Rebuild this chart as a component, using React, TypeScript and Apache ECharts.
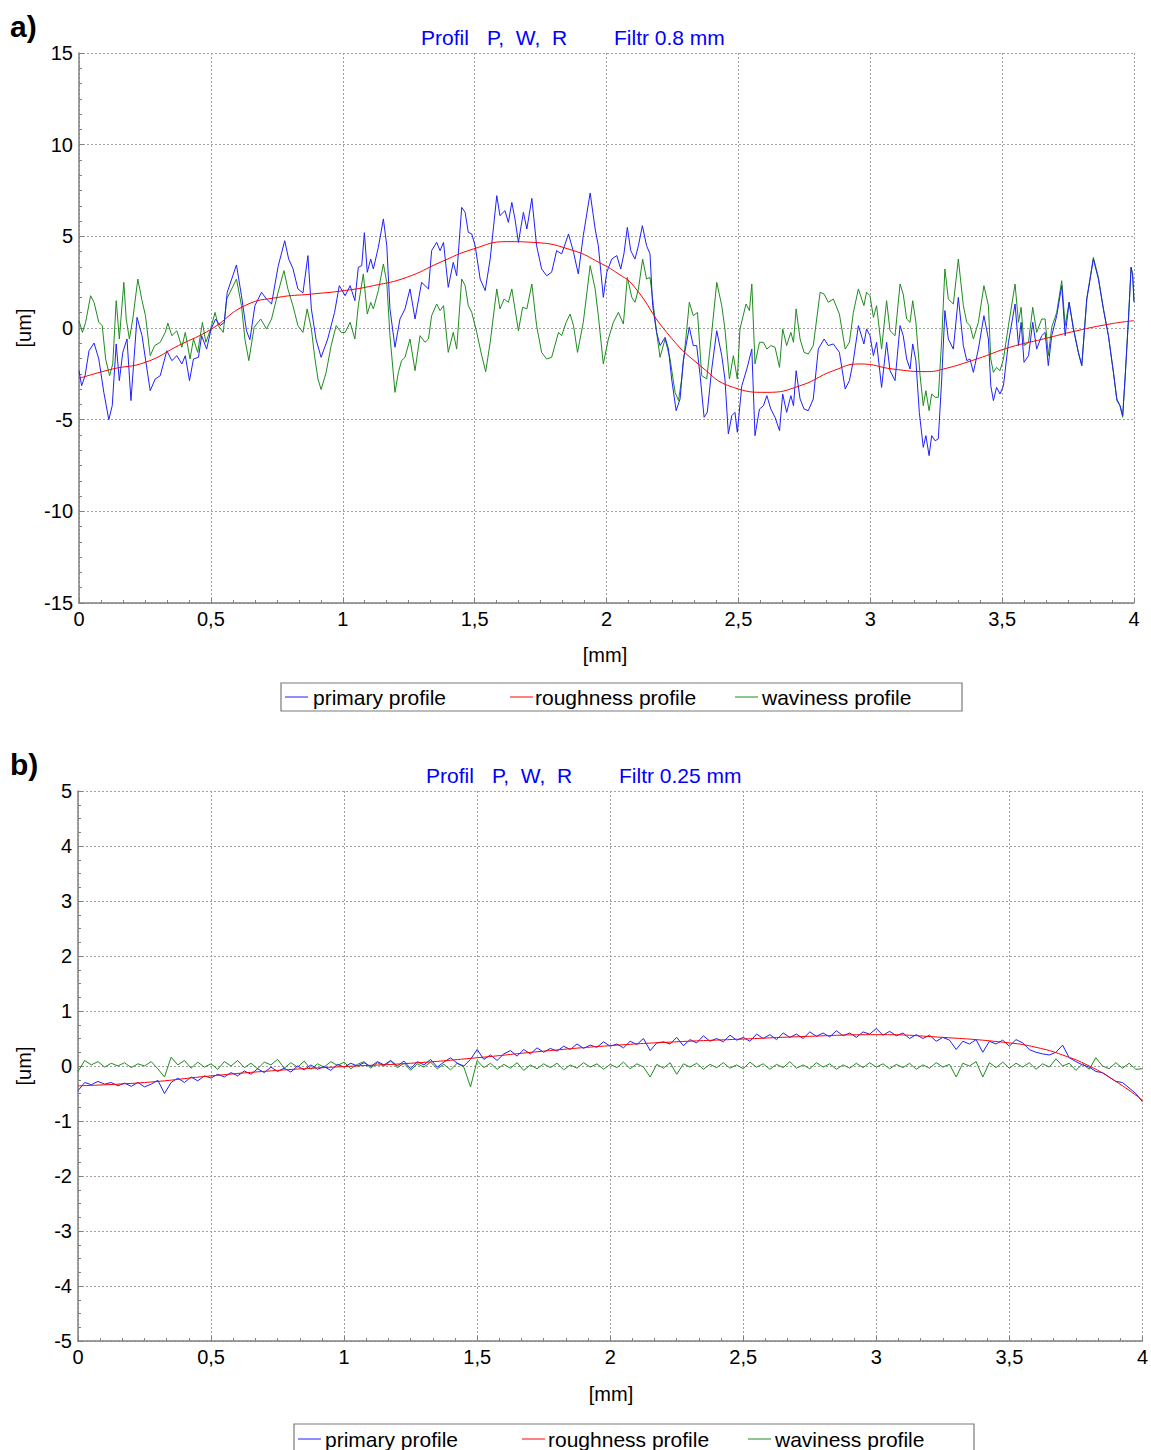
import React, { useEffect, useRef } from "react";
import * as echarts from "echarts";

const FONT = "'Liberation Sans', Arial, Helvetica, sans-serif";
const BLUE = "#1f1fff";
const RED = "#ff0000";
const GREEN = "#1e8c1e";

// ---------- Panel a) : Filtr 0.8 mm ----------  [x mm, value um]
const primaryA: number[][] = [
  [0, -2.33], [0.01, -3.15], [0.023, -2.6], [0.038, -1.24], [0.057, -0.82], [0.075, -1.69], [0.094, -3.5], [0.113, -5.0], [0.126, -4.24], [0.141, -0.87],
  [0.153, -2.87], [0.166, -1.33], [0.182, -0.6], [0.197, -3.96], [0.22, 0.58], [0.239, -0.42], [0.252, -1.69], [0.27, -3.42], [0.289, -2.78], [0.308, -2.6],
  [0.333, -1.24], [0.352, -1.78], [0.371, -1.51], [0.39, -1.96], [0.403, -1.51], [0.419, -2.87], [0.434, -1.69], [0.453, -1.6], [0.465, -0.42], [0.484, -1.15],
  [0.501, -0.05], [0.518, 0.49], [0.535, 0.13], [0.551, 0.31], [0.562, 1.95], [0.579, 2.67], [0.597, 3.44], [0.616, 1.76], [0.635, -0.15], [0.648, -0.64],
  [0.667, 1.22], [0.692, 1.95], [0.711, 1.58], [0.73, 1.31], [0.755, 3.36], [0.78, 4.76], [0.795, 3.76], [0.811, 3.25], [0.83, 2.13], [0.849, 1.91],
  [0.868, 3.95], [0.881, 1.04], [0.899, -0.64], [0.918, -1.6], [0.943, -0.6], [0.969, 0.85], [0.987, 2.31],
  [1.009, 1.76], [1.028, 2.31], [1.046, 1.49], [1.059, 3.31], [1.072, 3.4], [1.082, 5.2], [1.093, 3.04], [1.106, 3.76], [1.116, 3.22], [1.135, 4.4],
  [1.154, 5.95], [1.167, 4.49], [1.179, 1.04], [1.198, -1.05], [1.217, 0.49], [1.236, 1.04], [1.255, 2.13], [1.274, 0.49], [1.299, 2.49], [1.325, 2.13],
  [1.337, 4.22], [1.356, 4.67], [1.369, 4.22], [1.382, 4.67], [1.4, 2.22], [1.419, 3.58], [1.432, 2.85], [1.451, 6.58], [1.464, 6.31], [1.476, 5.22],
  [1.489, 5.13], [1.502, 4.49], [1.521, 2.67], [1.54, 2.04], [1.559, 3.76], [1.584, 7.22], [1.596, 6.13], [1.615, 6.4], [1.628, 5.76], [1.641, 6.85],
  [1.653, 5.95], [1.666, 4.67], [1.685, 6.31], [1.698, 5.4], [1.717, 7.07], [1.735, 4.49], [1.754, 3.22], [1.773, 2.85], [1.792, 3.04], [1.811, 4.22],
  [1.83, 4.04], [1.843, 4.58], [1.856, 5.13], [1.875, 4.13], [1.893, 2.95], [1.912, 5.04], [1.938, 7.36], [1.957, 5.4], [1.969, 4.49], [1.988, 1.67],
  [2.001, 3.04], [2.02, 3.76], [2.039, 3.95], [2.054, 3.22], [2.066, 4.04], [2.079, 5.49], [2.092, 4.22], [2.108, 3.76], [2.121, 4.49], [2.136, 5.58],
  [2.152, 4.49], [2.165, 4.04], [2.175, 1.22], [2.19, -0.24], [2.203, -0.96], [2.222, -0.51], [2.235, -1.15], [2.247, -2.78], [2.264, -4.51], [2.279, -3.87],
  [2.291, -1.78], [2.314, 0.04], [2.329, -0.96], [2.342, -0.96], [2.355, -2.6], [2.37, -4.87], [2.382, -4.6], [2.399, -2.24], [2.418, -0.15], [2.437, -1.51],
  [2.449, -2.78], [2.462, -5.78], [2.475, -4.78], [2.487, -4.6], [2.496, -5.69], [2.513, -3.15], [2.532, -2.24], [2.551, -1.15], [2.563, -5.87], [2.58, -4.42],
  [2.595, -4.24], [2.608, -3.69], [2.623, -4.42], [2.639, -4.87], [2.656, -5.6], [2.668, -3.6], [2.683, -4.6], [2.699, -3.69], [2.709, -4.24], [2.719, -2.33],
  [2.734, -3.87], [2.749, -4.42], [2.765, -4.51], [2.784, -3.87], [2.803, -1.15], [2.825, -0.6], [2.841, -0.96], [2.86, -0.87], [2.883, -1.33], [2.905, -3.33],
  [2.921, -2.87], [2.936, -1.78], [2.955, 0.13], [2.976, -0.87], [2.986, -0.05], [2.999, -0.42], [3.012, -1.51], [3.024, -0.78], [3.043, -3.24], [3.062, -0.78],
  [3.075, -2.33], [3.094, -2.87], [3.113, 0.13], [3.125, -0.42], [3.138, -1.69], [3.151, -2.24], [3.161, -0.87], [3.173, -1.78], [3.186, -4.6], [3.201, -6.51],
  [3.211, -5.87], [3.223, -6.96], [3.233, -5.87], [3.246, -6.15], [3.258, -6.05], [3.271, -2.78], [3.283, 0.95], [3.296, -0.6], [3.315, -1.15], [3.334, 1.67],
  [3.353, -0.96], [3.366, -1.78], [3.378, -1.69], [3.391, -2.42], [3.41, -1.15], [3.431, 0.67], [3.448, -0.6], [3.457, -3.15], [3.467, -3.96], [3.479, -3.24],
  [3.492, -3.6], [3.505, -3.15], [3.524, -0.78], [3.549, 1.31], [3.562, -0.96], [3.572, 0.31], [3.583, -1.87], [3.6, -1.51], [3.616, 0.31], [3.631, -1.15],
  [3.65, -0.42], [3.663, -0.24], [3.675, -2.05], [3.688, -0.42], [3.707, 0.67], [3.726, 2.31], [3.739, -0.42], [3.754, 1.4], [3.77, -0.05], [3.789, -1.33],
  [3.802, -2.05], [3.821, 1.58], [3.846, 3.76], [3.865, 2.67], [3.884, 1.04], [3.903, -0.42], [3.922, -2.42], [3.935, -3.87], [3.947, -4.24], [3.957, -4.78],
  [3.966, -2.78], [3.979, 0.49], [3.989, 3.31], [3.995, 2.85], [4.0, 1.4],
];

const wavinessA: number[][] = [
  [0, 0.4], [0.013, -0.24], [0.025, 0.31], [0.044, 1.76], [0.057, 1.4], [0.075, 0.31], [0.088, 0.13], [0.101, -1.69], [0.116, -2.6], [0.128, -1.96],
  [0.141, 1.49], [0.153, -0.6], [0.17, 2.49], [0.179, 0.49], [0.191, -0.6], [0.204, 0.49], [0.223, 2.67], [0.239, 1.49], [0.252, 0.67], [0.27, -1.51],
  [0.287, -0.96], [0.308, -0.78], [0.327, -0.24], [0.337, 0.27], [0.352, -0.42], [0.371, -0.15], [0.39, -1.05], [0.403, -0.24], [0.421, -1.69], [0.434, -0.6],
  [0.45, -1.33], [0.468, 0.31], [0.481, -0.78], [0.497, -0.15], [0.516, 0.85], [0.528, 0.13], [0.547, -0.24], [0.56, 1.58], [0.579, 2.13], [0.597, 2.67],
  [0.616, 1.22], [0.629, -0.6], [0.644, -1.78], [0.664, 0.04], [0.689, 0.49], [0.711, -0.05], [0.73, 0.49], [0.755, 1.95], [0.777, 3.13], [0.792, 2.13],
  [0.811, 1.22], [0.83, 0.13], [0.849, -0.24], [0.865, 1.04], [0.881, -0.05], [0.893, -1.51], [0.906, -2.78], [0.918, -3.36], [0.937, -2.42], [0.956, -0.96],
  [0.975, 0.13], [0.994, -0.24],
  [1.009, -0.24], [1.028, 0.31], [1.046, -0.6], [1.059, 1.22], [1.078, 2.95], [1.093, 0.76], [1.106, 1.4], [1.116, 1.04], [1.135, 2.04], [1.154, 3.49],
  [1.167, 2.49], [1.179, -0.42], [1.198, -3.51], [1.211, -2.42], [1.223, -1.78], [1.236, -1.6], [1.255, -0.6], [1.274, -2.33], [1.293, -0.42], [1.312, -0.78],
  [1.325, -0.6], [1.337, 0.67], [1.356, 1.31], [1.369, 0.95], [1.382, 1.22], [1.4, -1.33], [1.419, -0.24], [1.432, -1.15], [1.451, 2.67], [1.464, 2.31],
  [1.476, 1.22], [1.489, 0.85], [1.508, -0.24], [1.527, -1.51], [1.542, -2.38], [1.559, -0.78], [1.584, 2.13], [1.596, 1.04], [1.612, 1.58], [1.628, 1.4],
  [1.641, 2.13], [1.653, 1.04], [1.666, -0.15], [1.682, 1.13], [1.698, 1.04], [1.717, 2.4], [1.735, 0.13], [1.754, -1.33], [1.773, -1.69], [1.792, -1.6],
  [1.818, -0.24], [1.83, -0.42], [1.847, 0.31], [1.862, 0.76], [1.875, 0.13], [1.89, -1.33], [1.912, 0.31], [1.938, 3.4], [1.957, 2.13], [1.969, 0.67],
  [1.988, -1.96], [2.007, -0.6], [2.026, 0.31], [2.045, 0.85], [2.064, 0.22], [2.079, 2.76], [2.096, 1.67], [2.108, 1.4], [2.121, 2.13], [2.137, 3.76],
  [2.152, 2.67], [2.165, 2.76], [2.178, 1.22], [2.19, -0.24], [2.203, -1.6], [2.222, -0.6], [2.241, -1.69], [2.26, -3.51], [2.273, -3.96], [2.285, -2.78],
  [2.302, -0.42], [2.314, 1.4], [2.329, 0.67], [2.345, 0.85], [2.361, -2.6], [2.38, -2.78], [2.399, -0.24], [2.418, 2.49], [2.437, 1.22], [2.449, -0.05],
  [2.466, -2.78], [2.481, -1.51], [2.496, -2.78], [2.506, -0.05], [2.529, 1.31], [2.542, 0.95], [2.551, 2.4], [2.563, -1.96], [2.58, -0.78], [2.595, -0.78],
  [2.608, -1.15], [2.623, -0.96], [2.639, -1.05], [2.656, -2.15], [2.668, -0.05], [2.683, -0.96], [2.699, -0.24], [2.709, -0.78], [2.719, 1.04], [2.734, -0.6],
  [2.749, -1.33], [2.765, -1.42], [2.784, -0.96], [2.81, 1.95], [2.825, 1.85], [2.841, 1.4], [2.86, 1.58], [2.883, 0.76], [2.905, -1.15], [2.921, -0.78],
  [2.936, 0.85], [2.955, 2.13], [2.976, 1.22], [2.986, 1.95], [2.999, 1.76], [3.012, 0.58], [3.024, 1.22], [3.043, -1.15], [3.062, 1.49], [3.075, -0.15],
  [3.094, -0.42], [3.113, 2.4], [3.125, 1.85], [3.138, 0.49], [3.151, 0.31], [3.161, 1.49], [3.173, 0.31], [3.189, -2.6], [3.201, -4.24], [3.211, -3.42],
  [3.223, -4.51], [3.233, -3.6], [3.246, -3.78], [3.258, -3.78], [3.271, -0.6], [3.283, 3.22], [3.296, 1.58], [3.315, 1.31], [3.334, 3.76], [3.353, 1.22],
  [3.366, 0.31], [3.378, 0.13], [3.391, -0.6], [3.41, 0.31], [3.431, 2.31], [3.448, 1.22], [3.457, -1.69], [3.467, -2.42], [3.479, -2.15], [3.492, -2.33],
  [3.505, -1.69], [3.524, 0.13], [3.549, 2.4], [3.562, 0.31], [3.572, 1.13], [3.583, -0.96], [3.6, -0.78], [3.616, 1.13], [3.631, -0.24], [3.65, 0.49],
  [3.663, 0.49], [3.675, -1.51], [3.688, 0.04], [3.707, 0.85], [3.726, 2.58], [3.739, 0.13], [3.754, 1.4], [3.77, 0.04], [3.789, -1.33], [3.802, -2.05],
  [3.821, 1.58], [3.846, 3.85], [3.865, 2.76], [3.884, 1.04], [3.903, -0.42], [3.922, -2.42], [3.935, -3.96], [3.947, -4.24], [3.957, -4.87], [3.966, -2.78],
  [3.979, 0.49], [3.989, 3.31], [3.995, 2.95], [4.0, 1.49],
];

const roughnessA: number[][] = [
  [0, -2.75], [0.126, -2.24], [0.252, -1.87], [0.377, -0.96], [0.503, -0.05], [0.629, 1.22], [0.755, 1.67], [0.881, 1.85], [1.006, 2.04], [1.116, 2.31],
  [1.242, 2.76], [1.369, 3.58], [1.495, 4.31], [1.622, 4.71], [1.723, 4.67], [1.875, 4.22], [1.975, 3.55], [2.04, 3.0], [2.102, 2.31], [2.228, -0.24],
  [2.355, -2.05], [2.481, -3.24], [2.608, -3.51], [2.734, -3.15], [2.86, -2.33], [2.961, -1.96], [3.087, -2.24], [3.214, -2.38], [3.277, -2.24], [3.404, -1.69],
  [3.53, -1.05], [3.656, -0.6], [3.783, -0.15], [3.909, 0.22], [4.0, 0.4],
];

// ---------- Panel b) : Filtr 0.25 mm ----------  sampled every STEP_B mm
const STEP_B = 0.025;
const primaryB: number[] = [
  -0.45, -0.3, -0.34, -0.28, -0.33, -0.3, -0.36, -0.31, -0.37, -0.3,
  -0.38, -0.33, -0.26, -0.5, -0.3, -0.22, -0.3, -0.2, -0.27, -0.18,
  -0.22, -0.15, -0.2, -0.12, -0.18, -0.09, -0.15, -0.05, -0.12, -0.02,
  -0.1, -0.04, -0.11, 0.0, -0.07, 0.02, -0.06, -0.01, -0.08, 0.03,
  -0.02, 0.05, 0.0, 0.06, -0.01, 0.08, 0.02, 0.1, 0.0, 0.09,
  -0.05, 0.08, 0.02, 0.12, -0.02, 0.07, 0.15, 0.05, 0.0, 0.12,
  0.3, 0.12, 0.2, 0.1, 0.22, 0.28, 0.18, 0.3, 0.22, 0.33,
  0.25, 0.32, 0.27, 0.36, 0.3, 0.4, 0.32, 0.38, 0.34, 0.44,
  0.36, 0.4, 0.33, 0.45, 0.39, 0.5, 0.28, 0.42, 0.44, 0.4,
  0.52, 0.37, 0.48, 0.42, 0.55, 0.45, 0.5, 0.44, 0.56, 0.47,
  0.52, 0.45, 0.58, 0.5, 0.57, 0.48, 0.6, 0.52, 0.58, 0.5,
  0.62, 0.54, 0.6, 0.53, 0.64, 0.55, 0.6, 0.52, 0.62, 0.58,
  0.68, 0.56, 0.63, 0.55, 0.6, 0.5, 0.57, 0.5, 0.56, 0.45,
  0.52, 0.47, 0.3, 0.45, 0.4, 0.48, 0.25, 0.45, 0.4, 0.47,
  0.36, 0.48, 0.42, 0.3, 0.25, 0.22, 0.2, 0.25, 0.38, 0.15,
  0.08, 0.02, -0.02, -0.1, -0.12, -0.2, -0.28, -0.3, -0.4, -0.5,
  -0.65,
];
const wavinessB: number[] = [
  -0.1, 0.1, 0.02, 0.08, -0.02, 0.05, 0.0, 0.06, -0.03, 0.04,
  0.0, 0.08, -0.05, -0.2, 0.16, 0.02, 0.1, -0.04, 0.07, -0.02,
  0.04, -0.06, 0.08, 0.0, 0.1, -0.03, 0.05, -0.05, 0.07, 0.02,
  0.12, -0.04, 0.06, -0.02, 0.09, -0.06, 0.04, -0.02, 0.08, 0.01,
  0.07, -0.05, 0.03, 0.08, -0.04, 0.06, 0.0, 0.09, -0.03, 0.05,
  -0.08, 0.04, -0.02, 0.07, -0.05, 0.03, -0.07, 0.05, -0.02, -0.38,
  0.1, -0.03, 0.05, -0.06, 0.03, -0.04, 0.06, -0.08, 0.02, -0.05,
  0.04, -0.03, 0.05, -0.07, 0.02, -0.04, 0.06, -0.02, 0.04, -0.06,
  0.03, -0.03, 0.07, -0.05, 0.04, -0.02, -0.2, 0.03, -0.04, 0.06,
  -0.15, 0.04, -0.02, 0.05, -0.06, 0.03, -0.03, 0.06, -0.04, 0.02,
  -0.05, 0.07, -0.02, 0.04, -0.06, 0.03, -0.03, 0.08, -0.04, 0.02,
  -0.05, 0.06, -0.02, 0.04, -0.06, 0.02, -0.04, 0.05, -0.03, 0.06,
  -0.02, 0.04, -0.05, 0.03, -0.03, 0.05, -0.06, 0.02, -0.04, 0.06,
  -0.02, 0.03, -0.2, 0.05, 0.0, 0.08, -0.2, 0.06, -0.03, 0.07,
  -0.04, 0.05, -0.02, 0.06, -0.06, 0.04, -0.02, 0.13, 0.0, 0.05,
  -0.08, 0.04, -0.06, 0.15, 0.0, -0.05, 0.06, -0.04, 0.05, -0.06,
  -0.05,
];
const roughnessB: number[][] = [
  [0, -0.36], [0.25, -0.3], [0.5, -0.18], [0.75, -0.08], [1.0, -0.01], [1.25, 0.05], [1.5, 0.15], [1.75, 0.27], [2.0, 0.37], [2.25, 0.44],
  [2.5, 0.49], [2.75, 0.54], [3.0, 0.57], [3.25, 0.52], [3.5, 0.42], [3.6, 0.34], [3.7, 0.2], [3.8, 0.0], [3.9, -0.28], [4.0, -0.62],
];

const X_TICKS = { min: 0, max: 4, interval: 0.5 };
const Y_A = { min: -15, max: 15, interval: 5 };
const Y_B = { min: -5, max: 5, interval: 1 };
const LEGEND_NAMES = ["primary profile", "roughness profile", "waviness profile"];
const NB = "\u00a0";

const axisLineStyle = { color: "#808080", width: 1.5 };
const splitStyle = { color: "#a0a0a0", type: [2, 2] as any, width: 1 };

function xAxisCfg(gridIndex: number) {
  return {
    type: "value",
    gridIndex,
    ...X_TICKS,
    axisLine: { show: true, onZero: false, lineStyle: axisLineStyle },
    axisTick: { show: true, inside: true, length: 5, lineStyle: { color: "#808080" } },
    minorTick: { show: true, splitNumber: 6, length: 3, lineStyle: { color: "#808080" } },
    axisLabel: {
      fontSize: 20,
      color: "#000",
      fontFamily: FONT,
      margin: 6,
      formatter: (v: number) => String(v).replace(".", ","),
    },
    splitLine: { show: true, lineStyle: splitStyle },
  };
}

function yAxisCfg(gridIndex: number, rng: any, minorSplit: number) {
  return {
    type: "value",
    gridIndex,
    ...rng,
    axisLine: { show: true, onZero: false, lineStyle: axisLineStyle },
    axisTick: { show: true, inside: true, length: 5, lineStyle: { color: "#808080" } },
    minorTick: { show: true, splitNumber: minorSplit, length: 3, lineStyle: { color: "#808080" } },
    axisLabel: { fontSize: 20, color: "#000", fontFamily: FONT, margin: 6 },
    splitLine: { show: true, lineStyle: splitStyle },
  };
}

function line(data: any[], color: string, idx: number, smooth = false) {
  return {
    type: "line",
    xAxisIndex: idx,
    yAxisIndex: idx,
    data,
    showSymbol: false,
    symbol: "none",
    smooth,
    lineStyle: { color, width: 1 },
    itemStyle: { color },
    z: 2,
  };
}

function text(t: string, x: number, y: number, size: number, fill: string, extra: any = {}) {
  return {
    type: "text",
    x,
    y,
    rotation: extra.rotation || 0,
    style: {
      text: t,
      fill,
      font: `${extra.bold ? "bold " : ""}${size}px ${FONT}`,
      textAlign: extra.align || "left",
      textVerticalAlign: "middle",
    },
  };
}

function legend(x0: number, y0: number, w: number, h: number, items: number[][]) {
  const colors = [BLUE, RED, GREEN];
  const els: any[] = [
    { type: "rect", shape: { x: x0, y: y0, width: w, height: h }, style: { fill: "#fff", stroke: "#7a7a7a", lineWidth: 1.2 } },
  ];
  items.forEach((it, i) => {
    const cy = y0 + h / 2;
    els.push({ type: "line", shape: { x1: it[0], y1: cy, x2: it[0] + 23, y2: cy }, style: { stroke: colors[i], lineWidth: 1 } });
    els.push(text(LEGEND_NAMES[i], it[1], cy, 21, "#000"));
  });
  return els;
}

export default function App() {
  const ref = useRef<HTMLDivElement>(null);
  useEffect(() => {
    const chart = echarts.init(ref.current!, null, { renderer: "svg" });
    const bPairs = (arr: number[]) => arr.map((v, i) => [i * STEP_B, v]);
    const pwr = `P,${NB}${NB}W,${NB}${NB}R`;
    const option: any = {
      animation: false,
      backgroundColor: "#fff",
      grid: [
        { left: 79, top: 53, width: 1055, height: 550, containLabel: false },
        { left: 78, top: 791, width: 1067, height: 550, containLabel: false },
      ],
      xAxis: [xAxisCfg(0), xAxisCfg(1)],
      yAxis: [yAxisCfg(0, Y_A, 6), yAxisCfg(1, Y_B, 4)],
      series: [
        line(wavinessA, GREEN, 0),
        line(primaryA, BLUE, 0),
        line(roughnessA, RED, 0, true),
        line(bPairs(wavinessB), GREEN, 1),
        line(bPairs(primaryB), BLUE, 1),
        line(roughnessB, RED, 1, true),
      ],
      graphic: [
        text("a)", 10, 26, 30, "#000", { bold: true }),
        text("b)", 10, 764, 30, "#000", { bold: true }),
        text("Profil", 421, 37, 21, "#0000ff"),
        text(pwr, 487, 37, 21, "#0000ff"),
        text("Filtr 0.8 mm", 614, 37, 21, "#0000ff"),
        text("Profil", 426, 775, 21, "#0000ff"),
        text(pwr, 492, 775, 21, "#0000ff"),
        text("Filtr 0.25 mm", 619, 775, 21, "#0000ff"),
        text("[mm]", 605, 655, 20, "#000", { align: "center" }),
        text("[mm]", 611, 1394, 20, "#000", { align: "center" }),
        text("[um]", 24, 328, 20, "#000", { align: "center", rotation: Math.PI / 2 }),
        text("[um]", 24, 1066, 20, "#000", { align: "center", rotation: Math.PI / 2 }),
        ...legend(281, 683, 681, 28, [[285, 313], [510, 535], [735, 762]]),
        ...legend(294, 1424, 680, 30, [[298, 325], [522, 548], [748, 775]]),
      ],
    };
    chart.setOption(option);
    return () => chart.dispose();
  }, []);
  return (
    <div
      ref={ref}
      style={{ position: "absolute", left: 0, top: 0, width: 1151, height: 1450, background: "#fff" }}
    />
  );
}
